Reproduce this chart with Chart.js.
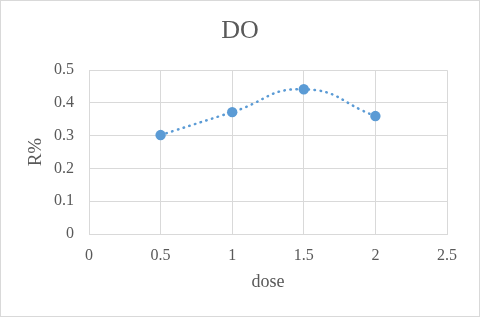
<!DOCTYPE html>
<html>
<head>
<meta charset="utf-8">
<script src="https://cdn.jsdelivr.net/npm/chart.js@4"></script>
<style>
  html, body { margin: 0; padding: 0; background: #fff; }
  canvas { display: block; }
</style>
</head>
<body>
<canvas id="chart" width="480" height="317"></canvas>
<script>
// dados
const doses = [0.5, 1, 1.5, 2];
const rValues = [0.302, 0.372, 0.442, 0.36];
const xTicks = [0, 0.5, 1, 1.5, 2, 2.5];
const yTicks = [0, 0.1, 0.2, 0.3, 0.4, 0.5];

const serif = "'Liberation Serif', 'Times New Roman', serif";
const grey = '#595959';
const blue = '#5b9bd5';

// fundo branco e moldura
const frame = {
    id: 'frame',
    beforeDraw(chart) {
        const ctx = chart.ctx;
        ctx.save();
        ctx.fillStyle = '#fff';
        ctx.fillRect(0, 0, chart.width, chart.height);
        ctx.strokeStyle = '#d9d9d9';
        ctx.lineWidth = 1;
        ctx.strokeRect(0.5, 0.5, chart.width - 1, chart.height - 1);
        ctx.restore();
    }
};

new Chart(document.getElementById('chart'), {
    type: 'scatter',
    data: {
        datasets: [{
            data: doses.map((d, i) => ({ x: d, y: rValues[i] })),
            showLine: true,
            tension: 0.5,
            borderColor: blue,
            borderWidth: 2.5,
            borderDash: [0.5, 5.5],
            borderCapStyle: 'round',
            backgroundColor: blue,
            pointRadius: 5.2,
            pointBorderWidth: 0,
            pointBackgroundColor: blue
        }]
    },
    options: {
        responsive: false,
        animation: false,
        layout: { padding: 0 },
        plugins: {
            legend: { display: false },
            tooltip: { enabled: false },
            title: {
                display: true,
                text: 'DO',
                color: grey,
                font: { family: serif, size: 26, weight: 'normal' },
                padding: { top: 16, bottom: 23 }
            }
        },
        scales: {
            x: {
                type: 'linear',
                min: 0,
                max: 2.5,
                afterBuildTicks: s => { s.ticks = xTicks.map(v => ({ value: v })); },
                afterFit: s => { s.height = 83; },
                ticks: {
                    color: grey,
                    padding: 12,
                    maxRotation: 0,
                    font: { family: serif, size: 16 },
                    callback: v => String(v)
                },
                grid: { color: '#d9d9d9', drawTicks: false },
                border: { color: '#d9d9d9' },
                title: {
                    display: true,
                    text: 'dose',
                    color: grey,
                    font: { family: serif, size: 18 },
                    padding: { top: 0, bottom: 24 }
                }
            },
            y: {
                min: 0,
                max: 0.5,
                afterBuildTicks: s => { s.ticks = yTicks.map(v => ({ value: v })); },
                afterFit: s => { s.width = 89; },
                ticks: {
                    color: grey,
                    padding: 15,
                    font: { family: serif, size: 16 },
                    callback: v => String(v)
                },
                grid: { color: '#d9d9d9', drawTicks: false },
                border: { color: '#d9d9d9' },
                title: {
                    display: true,
                    text: 'R%',
                    color: grey,
                    font: { family: serif, size: 19 },
                    padding: { top: 25, bottom: 0 }
                }
            },
            // eixo vazio à direita, só para reservar a margem
            yRight: {
                position: 'right',
                min: 0,
                max: 0.5,
                afterFit: s => { s.width = 33; },
                ticks: { display: false },
                grid: { display: false, drawTicks: false },
                border: { display: false }
            }
        }
    },
    plugins: [frame]
});
</script>
</body>
</html>
